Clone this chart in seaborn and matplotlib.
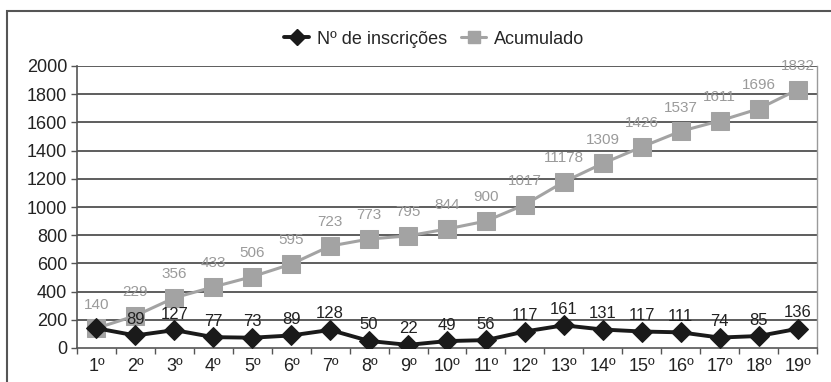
import matplotlib
matplotlib.use("Agg")
import matplotlib.pyplot as plt
import seaborn as sns
import pandas as pd
from matplotlib.patches import Rectangle
from matplotlib.lines import Line2D

categories = ["1º", "2º", "3º", "4º", "5º", "6º", "7º", "8º", "9º", "10º",
              "11º", "12º", "13º", "14º", "15º", "16º", "17º", "18º", "19º"]
inscricoes = [140, 89, 127, 77, 73, 89, 128, 50, 22, 49, 56, 117, 161, 131,
              117, 111, 74, 85, 136]
acumulado = [140, 229, 356, 433, 506, 595, 723, 773, 795, 844, 900, 1017,
             1178, 1309, 1426, 1537, 1611, 1696, 1832]
acumulado_labels = ["140", "229", "356", "433", "506", "595", "723", "773",
                    "795", "844", "900", "1017", "11178", "1309", "1426",
                    "1537", "1611", "1696", "1832"]
yticks = [0, 200, 400, 600, 800, 1000, 1200, 1400, 1600, 1800, 2000]

sns.set_theme(style="white")
plt.rcParams["font.family"] = ["Liberation Sans", "DejaVu Sans"]

df = pd.DataFrame({
    "pos": list(range(len(categories))),
    "inscricoes": inscricoes,
    "acumulado": acumulado,
})

fig = plt.figure(figsize=(8.31, 3.82), dpi=100)
W, H = 831, 382
ax = fig.add_axes([77 / W, 34 / H, (817 - 77) / W, (348 - 66) / H])

grey = "#a3a3a3"
dark = "#1a1a1a"

sns.lineplot(data=df, x="pos", y="acumulado", ax=ax, color=grey, lw=2.2,
             marker="s", markersize=12.5, markeredgecolor=grey,
             markerfacecolor=grey, zorder=3)
sns.lineplot(data=df, x="pos", y="inscricoes", ax=ax, color=dark, lw=2.8,
             marker="D", markersize=10, markeredgecolor=dark,
             markerfacecolor=dark, zorder=4)

for i, (v, t) in enumerate(zip(acumulado, acumulado_labels)):
    ax.annotate(t, (i, v), xytext=(0, 17), textcoords="offset points",
                ha="center", va="center", fontsize=11, color="#9a9a9a",
                zorder=5)
for i, v in enumerate(inscricoes):
    if i == 0:
        continue
    ax.annotate(str(v), (i, v), xytext=(0, 11.5), textcoords="offset points",
                ha="center", va="center", fontsize=12, color="#222222",
                zorder=5)

ax.set_xlim(-0.5, len(categories) - 0.5)
ax.set_ylim(0, 2000)
ax.set_yticks(yticks)
ax.set_yticklabels([str(v) for v in yticks], fontsize=13, color="#222222")
ax.set_xticks(range(len(categories)))
ax.set_xticklabels(categories, fontsize=13, color="#222222")
ax.set_xticks([i - 0.5 for i in range(len(categories) + 1)], minor=True)
ax.tick_params(axis="x", which="major", length=0, pad=7)
ax.tick_params(axis="x", which="minor", length=4, width=1, color="#555555",
               direction="out", bottom=True)
ax.tick_params(axis="y", length=4, width=1, color="#555555", direction="out",
               left=True, pad=3)
ax.set_xlabel("")
ax.set_ylabel("")

for y in yticks[1:]:
    ax.axhline(y, color="#505050", lw=1.3, zorder=1)

for side in ["left", "bottom"]:
    ax.spines[side].set_color("#555555")
    ax.spines[side].set_linewidth(1.2)
ax.spines["right"].set_color("#9a9a9a")
ax.spines["right"].set_linewidth(1.0)
ax.spines["top"].set_visible(False)

handles = [
    Line2D([0], [0], color=dark, lw=2.8, marker="D", markersize=8),
    Line2D([0], [0], color=grey, lw=2.2, marker="s", markersize=9),
]
fig.legend(handles, ["Nº de inscrições", "Acumulado"], loc="center",
           bbox_to_anchor=(434 / W, 1 - 39 / H), ncol=2, frameon=False,
           fontsize=13, handlelength=1.4, handletextpad=0.4,
           columnspacing=0.8)

fig.patches.append(Rectangle((7 / W, -0.05), 1.1, 1 - 11 / H + 0.05,
                             transform=fig.transFigure, fill=False,
                             edgecolor="#555555", lw=1.5))

fig.savefig("out.png", dpi=100)
